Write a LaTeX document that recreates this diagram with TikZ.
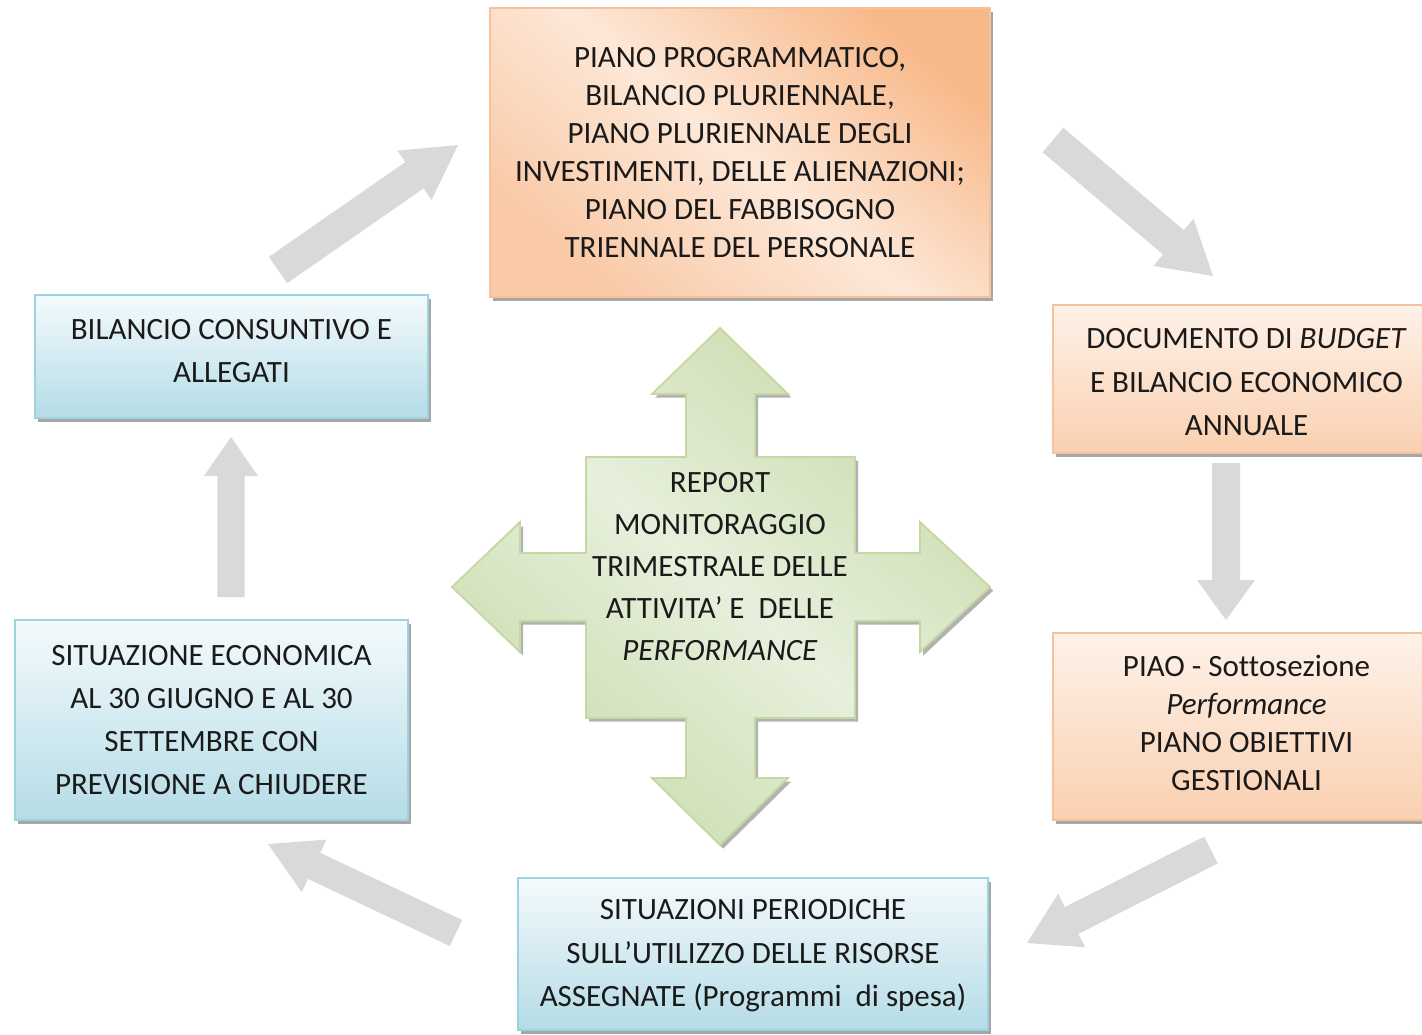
\documentclass[tikz,border=0pt]{standalone}
\usepackage{fontspec}
\setmainfont{Carlito}[Ligatures={NoCommon}]
\usetikzlibrary{calc,shadows}
\definecolor{orBorder}{HTML}{F6C29C}
\definecolor{orDark}{HTML}{F8B98A}
\definecolor{orMid}{HTML}{F9C9A6}
\definecolor{orLight}{HTML}{FDE8D8}
\definecolor{orTop}{HTML}{FEF2E9}
\definecolor{orBot}{HTML}{FAD0B0}
\definecolor{blBorder}{HTML}{9DD2E0}
\definecolor{blTop}{HTML}{F4FAFC}
\definecolor{blBot}{HTML}{B5DCE7}
\definecolor{grDark}{HTML}{CADCAE}
\definecolor{grLight}{HTML}{E7F0DC}
\definecolor{grBorder}{HTML}{C5D7A3}
\definecolor{arrowgray}{HTML}{D9D9D9}
\definecolor{txt}{HTML}{1A1A1A}
\newcommand\grayarrow[5]{%
  \coordinate (gah) at ($(#2)!#5!(#1)$);
  \fill[arrowgray] ($(#1)!#3!90:(#2)$) -- ($(gah)!#3!90:(#2)$) -- ($(gah)!#4!90:(#2)$) -- (#2)
    -- ($(gah)!#4!-90:(#2)$) -- ($(gah)!#3!-90:(#2)$) -- ($(#1)!#3!-90:(#2)$) -- cycle;}
\newcommand\crosspath{(720,328) -- (788,394) -- (755,394) -- (755,457) -- (855,457) -- (855,553)
  -- (920,553) -- (920,522) -- (990,587) -- (920,652) -- (920,621) -- (855,621) -- (855,718)
  -- (755,718) -- (755,778) -- (788,778) -- (720,845) -- (652,778) -- (686,778) -- (686,718)
  -- (586,718) -- (586,621) -- (520,621) -- (520,652) -- (452,587) -- (520,522) -- (520,553)
  -- (586,553) -- (586,457) -- (686,457) -- (686,394) -- (652,394) -- cycle}
\begin{document}
\begin{tikzpicture}[x=0.5pt,y=-0.5pt,
  box/.style={rectangle, line width=0.9pt, align=center, inner sep=0pt, text=txt,
    font=\fontsize{15.5}{21.5}\selectfont,
    drop shadow={shadow xshift=1.6pt, shadow yshift=-1.8pt, fill=black, opacity=0.35}},
  orangebox/.style={box, draw=orBorder, top color=orTop, bottom color=orBot},
  bluebox/.style={box, draw=blBorder, top color=blTop, bottom color=blBot},
  textonly/.style={align=center, inner sep=0pt, text=txt, font=\fontsize{15.5}{21}\selectfont}]
\useasboundingbox (0,0) rectangle (1422,1034);
\fill[white] (0,0) rectangle (1422,1034);

% boxes
\node[box, draw=orBorder, top color=orDark, bottom color=orMid, middle color=orLight,
  shading angle=-40, minimum width=250pt, minimum height=144.5pt,
  font=\fontsize{15.5}{19}\selectfont] (top) at (740,152.5)
  {PIANO PROGRAMMATICO,\\BILANCIO PLURIENNALE,\\PIANO PLURIENNALE DEGLI\\INVESTIMENTI, DELLE ALIENAZIONI;\\PIANO DEL FABBISOGNO\\TRIENNALE DEL PERSONALE};
\node[orangebox, minimum width=193.5pt, minimum height=74pt, text height=57pt,
  font=\fontsize{15.5}{21.8}\selectfont] (budget) at (1246.5,379)
  {DOCUMENTO DI \textit{BUDGET}\\E BILANCIO ECONOMICO\\ANNUALE};
\node[orangebox, minimum width=193.5pt, minimum height=93.5pt, text depth=4pt,
  font=\fontsize{15.5}{19}\selectfont] (piao) at (1246.5,726.5)
  {PIAO - Sottosezione\\\textit{Performance}\\PIANO OBIETTIVI\\GESTIONALI};
\node[bluebox, minimum width=235pt, minimum height=76pt, text depth=1pt,
  font=\fontsize{15.5}{21.8}\selectfont] (periodiche) at (753,954)
  {SITUAZIONI PERIODICHE\\SULL’UTILIZZO DELLE RISORSE\\ASSEGNATE (Programmi\ \ di spesa)};
\node[bluebox, minimum width=196.5pt, minimum height=100pt] (situazione) at (211.5,720)
  {SITUAZIONE ECONOMICA\\AL 30 GIUGNO E AL 30\\SETTEMBRE CON\\PREVISIONE A CHIUDERE};
\node[bluebox, minimum width=196.5pt, minimum height=61.5pt, text depth=6pt] (consuntivo) at (231.5,356.5)
  {BILANCIO CONSUNTIVO E\\ALLEGATI};

% central cross
\fill[black, opacity=0.3, xshift=1.6pt, yshift=-1.8pt] \crosspath;
\shade[top color=grDark, bottom color=grDark, middle color=grLight, shading angle=-40] \crosspath;
\draw[grBorder, line width=0.9pt, line join=miter] \crosspath;
\node[textonly] (report) at (720,567)
  {REPORT\\MONITORAGGIO\\TRIMESTRALE DELLE\\ATTIVITA’ E\ \ DELLE\\\textit{PERFORMANCE}};

% gray cycle arrows
\coordinate (a1s) at (278,270);   \coordinate (a1e) at (458,145);
\coordinate (a2s) at (1053,140);  \coordinate (a2e) at (1213,276);
\coordinate (a3s) at (1226,463);  \coordinate (a3e) at (1226,620);
\coordinate (a4s) at (1211,850);  \coordinate (a4e) at (1027,943);
\coordinate (a5s) at (456,933);   \coordinate (a5e) at (268,844);
\coordinate (a6s) at (231,597);   \coordinate (a6e) at (231,437);
\grayarrow{a1s}{a1e}{8pt}{15pt}{26.5pt}
\grayarrow{a2s}{a2e}{8pt}{15.5pt}{26pt}
\grayarrow{a3s}{a3e}{7pt}{14.5pt}{20pt}
\grayarrow{a4s}{a4e}{7.5pt}{15pt}{25pt}
\grayarrow{a5s}{a5e}{7.2pt}{14.5pt}{25.5pt}
\grayarrow{a6s}{a6e}{6.8pt}{13.5pt}{19.5pt}
\end{tikzpicture}
\end{document}
